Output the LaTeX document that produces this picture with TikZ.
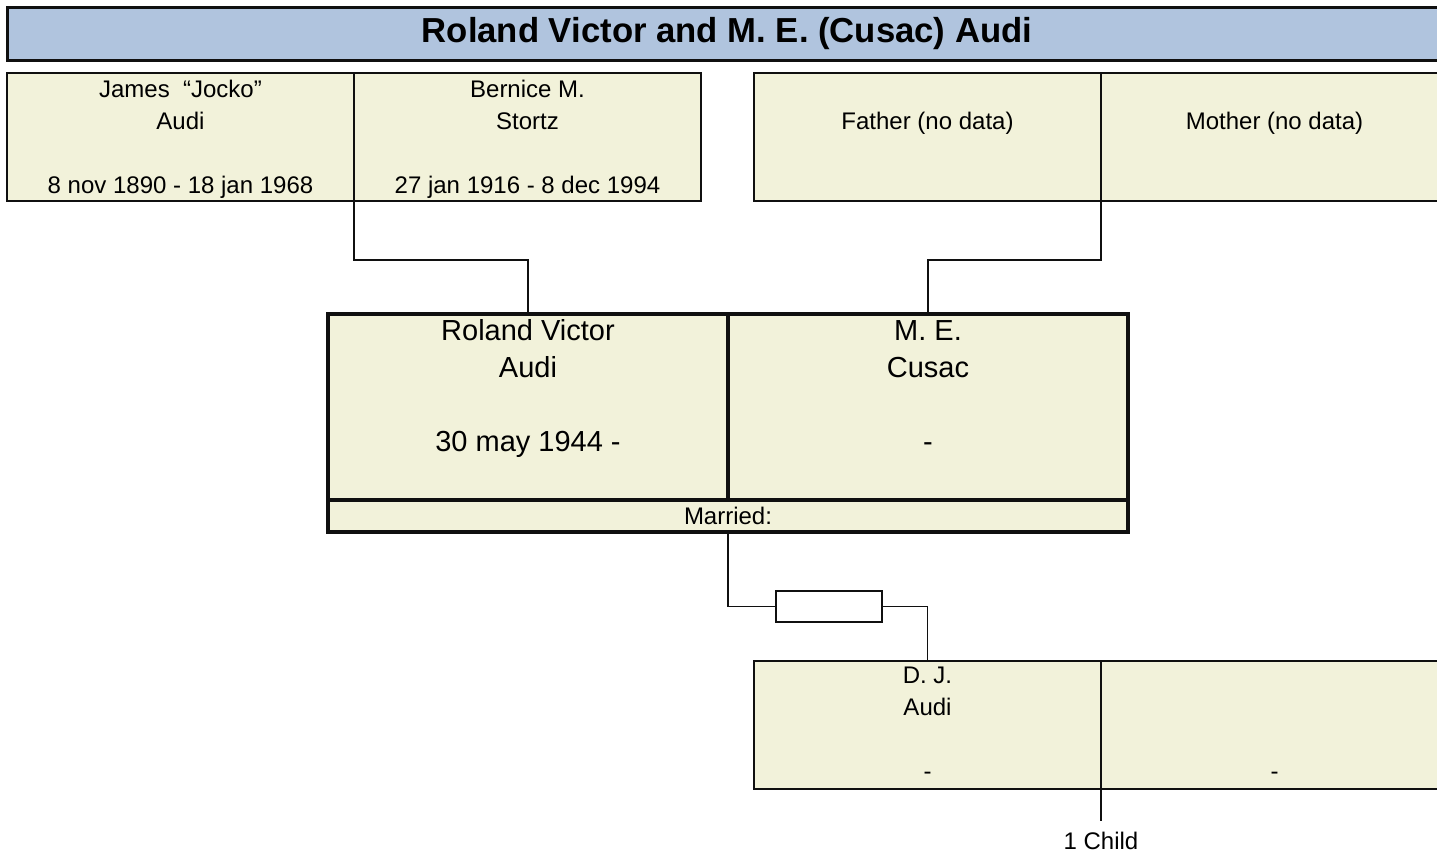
\documentclass[tikz,border=0pt]{standalone}
\usepackage{fontspec}
\setmainfont{Liberation Sans}
\usepackage{xcolor}
\usetikzlibrary{positioning}
\definecolor{TitleBlue}{HTML}{B0C4DE}
\definecolor{CardFill}{HTML}{F2F2DA}
\definecolor{LineDark}{HTML}{101010}
\newcommand{\botstrut}{\rule[-5.6pt]{0pt}{22.4pt}}

\begin{document}
\begin{tikzpicture}[x=1pt,y=-1pt,
          every node/.style={font=\fontsize{24}{32}\selectfont,align=center,
            inner sep=0pt,outer sep=0pt},
          card/.style={draw=LineDark,line width=1.6pt,fill=CardFill,
            minimum width=347pt,minimum height=128pt},
          bigcard/.style={draw=LineDark,line width=3.2pt,fill=CardFill,
            minimum width=400pt,minimum height=186pt,
            font=\fontsize{29}{37}\selectfont},
          ln/.style={draw=LineDark,line width=1.6pt}]
        \useasboundingbox (0,0) rectangle (1437,854);
        \clip (0,0) rectangle (1437,854);
        % title bar
        \node[draw=LineDark,line width=3pt,fill=TitleBlue,
          minimum width=1440pt,minimum height=53pt,
          font=\bfseries\fontsize{34.7}{40}\selectfont]
        (title) at (727,34) {Roland Victor and M. E. (Cusac) Audi};
        % grandparents
        \node[card,anchor=north west] (james) at (7,73)
        {\strut James\ \ “Jocko”\\ \strut Audi\\ \strut\\ \botstrut 8 nov 1890 - 18 jan 1968};
        \node[card,right=0pt of james] (bernice)
        {\strut Bernice M.\\ \strut Stortz\\ \strut\\ \botstrut 27 jan 1916 - 8 dec 1994};
        \node[card,anchor=north west] (father) at (754,73)
        {\strut\\ \strut Father (no data)\\ \strut\\ \botstrut};
        \node[card,right=0pt of father] (mother)
        {\strut\\ \strut Mother (no data)\\ \strut\\ \botstrut};
        % couple
        \node[bigcard,anchor=north west] (roland) at (328,314)
        {\strut Roland Victor\\ \strut Audi\\ \strut\\ \strut 30 may 1944 -\\ \strut};
        \node[bigcard,right=0pt of roland] (me)
        {\strut M. E.\\ \strut Cusac\\ \strut\\ \strut -\\ \strut};
        \node[bigcard,minimum width=800pt,minimum height=32pt,anchor=north,
          font=\fontsize{24}{32}\selectfont]
        (marr) at (roland.south east) {Married:};
        % children
        \node[draw=LineDark,line width=1.6pt,fill=white,
          minimum width=106pt,minimum height=31pt] (sib) at (829,606.5) {};
        \node[card,anchor=north west] (dj) at (754,661)
        {\strut D. J.\\ \strut Audi\\ \strut\\ \strut -};
        \node[card,right=0pt of dj] (djspouse)
        {\strut\\ \strut\\ \strut\\ \strut -};
        \node[below=32pt of dj.south east,inner ysep=11pt] (nkids) {1 Child};
        % connectors
        \draw[ln] (james.south east) -- ++(0,59) -| (roland.north);
        \draw[ln] (father.south east) -- ++(0,59) -| (me.north);
        \draw[ln] (marr.south) |- (sib.west);
        \draw[ln] (sib.east) -| (dj.north);
        \draw[ln] (dj.south east) -- (nkids.north);
      \end{tikzpicture}
\end{document}
